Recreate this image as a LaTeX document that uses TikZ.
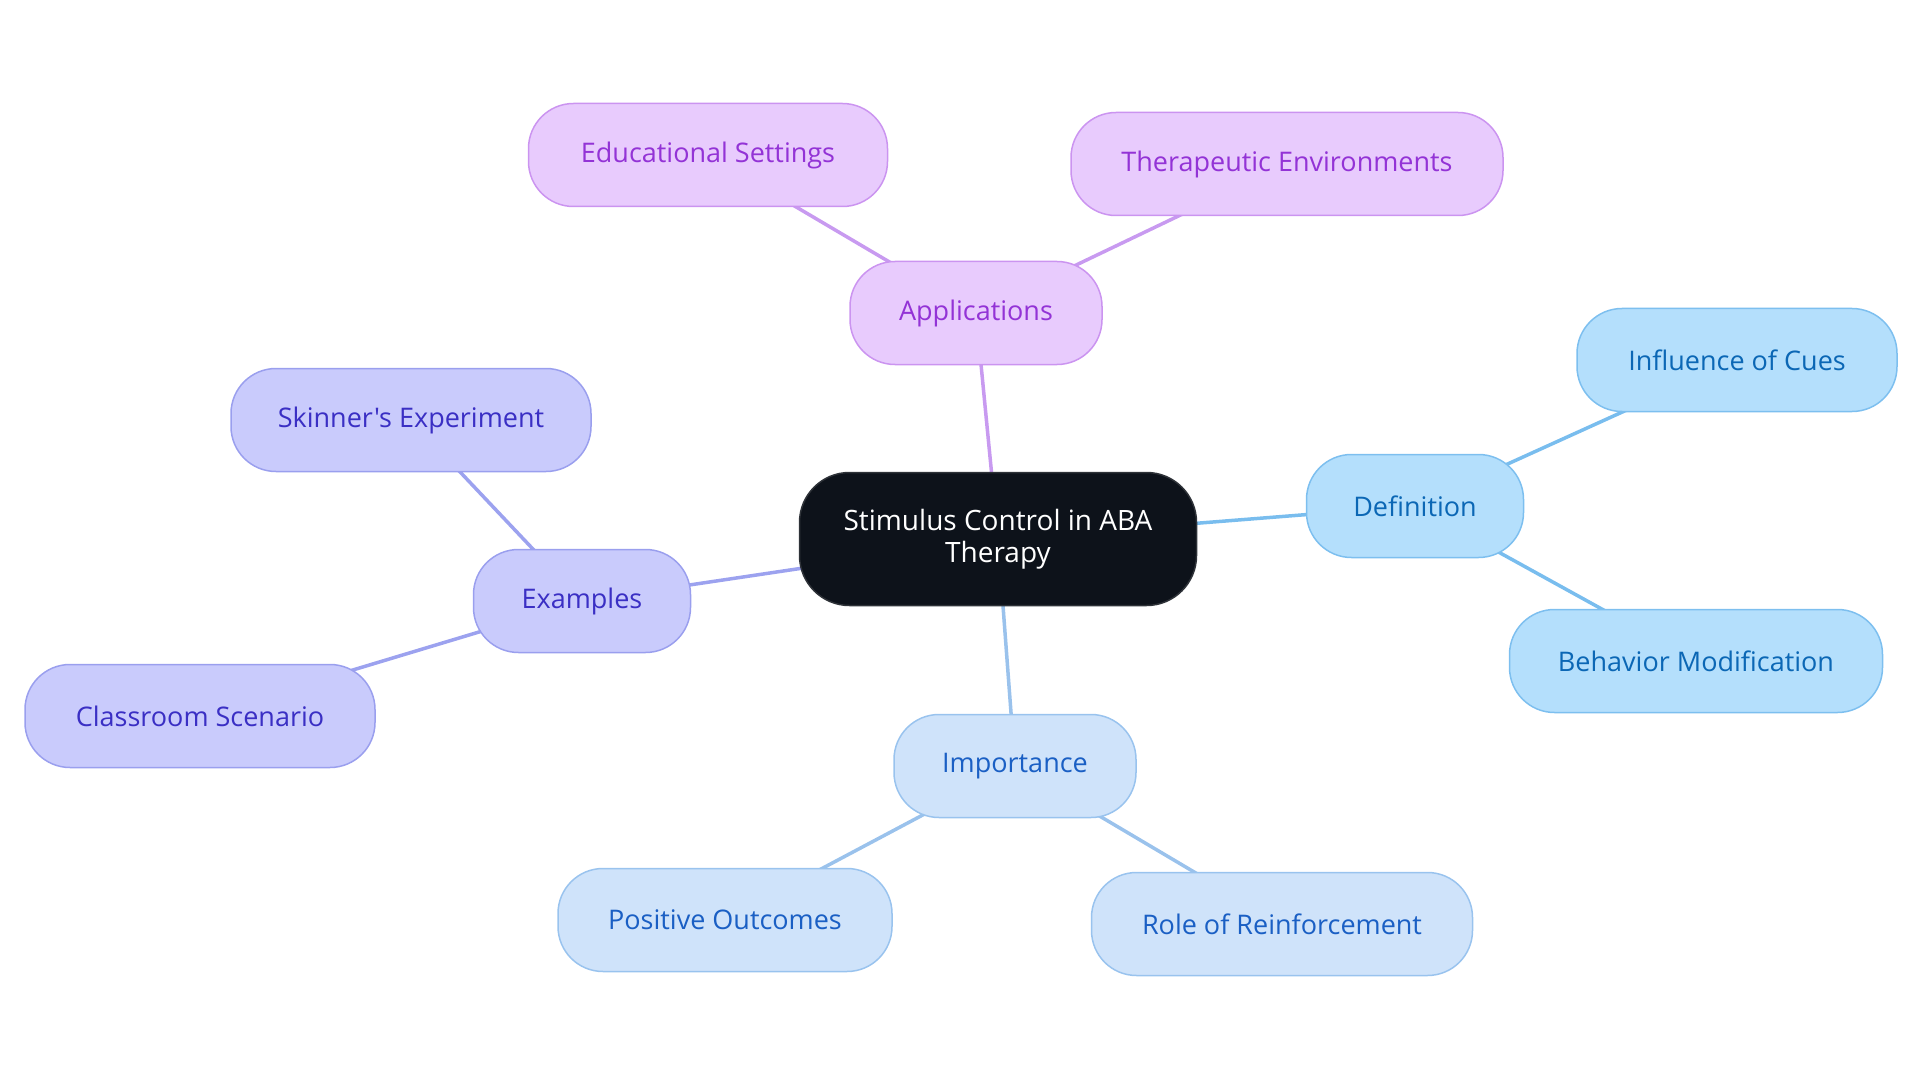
\documentclass[tikz,border=0pt]{standalone}
\usepackage{fontspec}
\setmainfont{Open Sans}[Ligatures=TeXOff]
\usetikzlibrary{backgrounds}
\definecolor{pfill}{HTML}{E8CBFD}
\definecolor{pdraw}{HTML}{CB94F0}
\definecolor{ptext}{HTML}{9333D6}
\definecolor{pline}{HTML}{C89AF0}
\definecolor{dfill}{HTML}{B4DFFC}
\definecolor{ddraw}{HTML}{7DBFEF}
\definecolor{dtext}{HTML}{0B67B5}
\definecolor{dline}{HTML}{79BDEE}
\definecolor{ifill}{HTML}{CFE3FA}
\definecolor{idraw}{HTML}{99C3EE}
\definecolor{itext}{HTML}{1A5FC4}
\definecolor{iline}{HTML}{9AC2EC}
\definecolor{efill}{HTML}{C9CBFC}
\definecolor{edraw}{HTML}{9A9FEE}
\definecolor{etext}{HTML}{3A2FC4}
\definecolor{eline}{HTML}{9CA2EF}
\definecolor{cfill}{HTML}{0D121A}
\definecolor{cdraw}{HTML}{2E3238}
\tikzset{
  box/.style={draw, rounded corners=45pt, minimum height=103pt, line width=1.5pt,
    font=\fontsize{27}{32}\selectfont, inner sep=0pt, align=center},
  pbox/.style={box, fill=pfill, draw=pdraw, text=ptext},
  dbox/.style={box, fill=dfill, draw=ddraw, text=dtext},
  ibox/.style={box, fill=ifill, draw=idraw, text=itext},
  ebox/.style={box, fill=efill, draw=edraw, text=etext},
  cbox/.style={box, fill=cfill, draw=cdraw, text=white, minimum height=133pt, rounded corners=50pt,
    font=\fontsize{28}{32}\selectfont},
  edge/.style={line width=3.5pt},
}
\begin{document}
\begin{tikzpicture}[x=1pt,y=-1pt]
\useasboundingbox (0,0) rectangle (1920,1083);
\node[cbox, minimum width=397pt] (c) at (998,539) {Stimulus Control in ABA\\Therapy};
\node[pbox, minimum width=252pt] (app) at (976,313) {Applications};
\node[pbox, minimum width=359pt] (edu) at (708,155) {Educational Settings};
\node[pbox, minimum width=432pt] (ther) at (1287,164) {Therapeutic Environments};
\node[dbox, minimum width=217pt] (def) at (1415,506) {Definition};
\node[dbox, minimum width=320pt] (cues) at (1737,360) {Influence of Cues};
\node[dbox, minimum width=373pt] (beh) at (1696,661) {Behavior Modification};
\node[ibox, minimum width=242pt] (imp) at (1015,766) {Importance};
\node[ibox, minimum width=334pt] (pos) at (725,920) {Positive Outcomes};
\node[ibox, minimum width=381pt] (role) at (1282,924) {Role of Reinforcement};
\node[ebox, minimum width=217pt] (ex) at (582,601) {Examples};
\node[ebox, minimum width=360pt] (skin) at (411,420) {Skinner's Experiment};
\node[ebox, minimum width=350pt] (class) at (200,716) {Classroom Scenario};
\begin{scope}[on background layer]
\draw[edge, pline] (c.center) -- (app.center);
\draw[edge, pline] (app.center) -- (edu.center);
\draw[edge, pline] (app.center) -- (ther.center);
\draw[edge, dline] (c.center) -- (def.center);
\draw[edge, dline] (def.center) -- (cues.center);
\draw[edge, dline] (def.center) -- (beh.center);
\draw[edge, iline] (c.center) -- (imp.center);
\draw[edge, iline] (imp.center) -- (pos.center);
\draw[edge, iline] (imp.center) -- (role.center);
\draw[edge, eline] (c.center) -- (ex.center);
\draw[edge, eline] (ex.center) -- (skin.center);
\draw[edge, eline] (ex.center) -- (class.center);
\end{scope}
\end{tikzpicture}
\end{document}
